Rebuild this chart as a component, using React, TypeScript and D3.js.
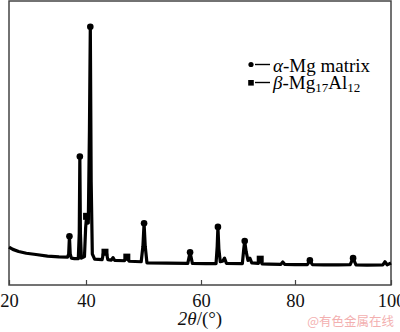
import { useEffect, useRef } from "react";
import * as d3 from "d3";

// XRD profile, 2θ (deg) and intensity (a.u.)
const twoTheta = [
  20.0, 21.0, 22.5, 24.5, 27.0, 30.0, 33.0, 35.2, 35.5, 35.7, 35.9, 36.2,
  37.0, 38.0, 38.25, 38.4, 38.55, 38.8, 39.6, 39.9, 40.1, 40.4, 40.6, 40.75,
  40.9, 41.1, 41.5, 42.8, 43.0, 43.3, 43.6, 43.8, 44.4, 44.7, 45.0, 46.7,
  47.1, 47.5, 49.6, 49.9, 50.1, 50.3, 50.6, 54.0, 57.7, 58.1, 58.5, 61.0,
  63.2, 63.45, 63.6, 63.8, 64.1, 64.6, 65.0, 65.4, 68.8, 69.1, 69.3, 69.6,
  70.0, 70.4, 70.8, 72.2, 72.6, 73.0, 74.5, 77.0, 77.4, 77.8, 80.0, 82.6,
  83.1, 83.6, 86.0, 89.0, 91.5, 92.1, 92.7, 95.0, 98.3, 98.75, 99.2, 100.0,
];
const intensity = [
  14.7, 13.8, 13.0, 12.3, 11.8, 11.2, 10.9, 10.8, 12.0, 18.9, 12.0, 10.4,
  10.2, 10.2, 20.0, 49.8, 20.0, 10.4, 11.0, 22.0, 26.6, 24.0, 60.0, 100.0,
  40.0, 12.0, 10.0, 9.8, 12.0, 12.7, 12.0, 9.8, 9.6, 10.6, 9.5, 9.4,
  10.8, 9.2, 9.0, 15.0, 23.9, 15.0, 8.6, 8.5, 8.4, 12.7, 8.4, 8.3,
  8.3, 15.0, 22.5, 14.0, 9.0, 9.2, 10.4, 8.4, 8.3, 14.0, 17.0, 13.0,
  9.5, 10.4, 8.6, 8.4, 10.0, 8.2, 8.1, 8.0, 8.9, 8.0, 7.9, 7.9,
  9.6, 7.9, 7.8, 7.8, 7.9, 10.4, 7.8, 7.7, 7.8, 9.0, 7.8, 8.5,
];

// phase markers (2θ of the peak they label)
const alphaPeaks = [35.7, 38.4, 40.75, 50.1, 58.1, 63.6, 69.3, 83.1, 92.1];
const betaPeaks = [40.1, 43.3, 47.1, 72.6];

// the printed axis is not evenly spaced, so ticks map piecewise
const xTicks = [20, 40, 60, 80, 100];
const xTickPx = [9, 86, 201, 295, 391];

export default function App() {
  const svgRef = useRef<SVGSVGElement>(null);

  useEffect(() => {
    const width = 400;
    const height = 332;
    const margin = { top: 1, right: 9, bottom: 47, left: 9 };
    const innerH = height - margin.top - margin.bottom;

    const svg = d3.select(svgRef.current);
    svg.selectAll("*").remove();

    const font = "'Liberation Serif', 'Times New Roman', serif";

    const x = d3.scaleLinear().domain(xTicks).range(xTickPx);
    const y = d3.scaleLinear().domain([0, 110]).range([margin.top + innerH, margin.top]);

    const data = twoTheta.map((t, i) => ({ t, v: intensity[i] }));
    const at = (t: number) => {
      const d = data.find((p) => Math.abs(p.t - t) < 1e-6);
      return d ? d.v : 0;
    };

    // frame
    svg.append("rect")
      .attr("x", x(20))
      .attr("y", margin.top)
      .attr("width", x(100) - x(20))
      .attr("height", innerH)
      .attr("fill", "none")
      .attr("stroke", "#444")
      .attr("stroke-width", 1.5);

    // bottom axis, ticks pointing inward
    const axis = d3.axisBottom(x)
      .tickValues(xTicks)
      .tickSizeInner(-5)
      .tickSizeOuter(0)
      .tickPadding(9)
      .tickFormat(d3.format("d"));
    const axisG = svg.append("g")
      .attr("transform", `translate(0,${margin.top + innerH})`)
      .call(axis);
    axisG.select(".domain").remove();
    axisG.selectAll(".tick line").attr("stroke", "#444").attr("stroke-width", 1.2);
    axisG.selectAll(".tick text")
      .attr("font-family", font)
      .attr("font-size", 18.5)
      .attr("fill", "#111");

    // pattern
    const line = d3.line<{ t: number; v: number }>()
      .x((d) => x(d.t))
      .y((d) => y(d.v));
    svg.append("path")
      .datum(data)
      .attr("fill", "none")
      .attr("stroke", "#000")
      .attr("stroke-width", 3.2)
      .attr("stroke-linejoin", "round")
      .attr("d", line);

    // markers
    svg.append("g")
      .selectAll("circle")
      .data(alphaPeaks)
      .join("circle")
      .attr("cx", (d) => x(d))
      .attr("cy", (d) => y(at(d)))
      .attr("r", 3.3)
      .attr("fill", "#000");
    svg.append("g")
      .selectAll("rect")
      .data(betaPeaks)
      .join("rect")
      .attr("x", (d) => x(d) - 3.5)
      .attr("y", (d) => y(at(d)) - 3.5)
      .attr("width", 7)
      .attr("height", 7)
      .attr("fill", "#000");

    // legend
    const lg = svg.append("g").attr("transform", "translate(251,0)");
    lg.append("circle").attr("cx", 0).attr("cy", 64.5).attr("r", 2.6).attr("fill", "#000");
    lg.append("line").attr("x1", 4).attr("x2", 19).attr("y1", 64.5).attr("y2", 64.5)
      .attr("stroke", "#000").attr("stroke-width", 1.4);
    const t1 = lg.append("text").attr("x", 22).attr("y", 71.5)
      .attr("font-family", font).attr("font-size", 19).attr("fill", "#000");
    t1.append("tspan").attr("font-style", "italic").text("α");
    t1.append("tspan").text("-Mg matrix");

    lg.append("rect").attr("x", -2.8).attr("y", 80).attr("width", 5.6).attr("height", 5.6).attr("fill", "#000");
    lg.append("line").attr("x1", 4).attr("x2", 19).attr("y1", 82.5).attr("y2", 82.5)
      .attr("stroke", "#000").attr("stroke-width", 1.4);
    const t2 = lg.append("text").attr("x", 22).attr("y", 88.5)
      .attr("font-family", font).attr("font-size", 19).attr("fill", "#000");
    t2.append("tspan").attr("font-style", "italic").text("β");
    t2.append("tspan").text("-Mg");
    t2.append("tspan").attr("font-size", 13).attr("dy", 3).text("17");
    t2.append("tspan").attr("dy", -3).text("Al");
    t2.append("tspan").attr("font-size", 13).attr("dy", 3).text("12");

    // axis title
    const xt = svg.append("text")
      .attr("x", 200)
      .attr("y", 325)
      .attr("text-anchor", "middle")
      .attr("font-family", font)
      .attr("font-size", 19)
      .attr("fill", "#111");
    xt.append("tspan").attr("font-style", "italic").text("2θ");
    xt.append("tspan").text("/(°)");

    // source watermark
    svg.append("text")
      .attr("x", 394)
      .attr("y", 326)
      .attr("text-anchor", "end")
      .attr("font-family", "'Noto Sans CJK SC', sans-serif")
      .attr("font-size", 12.5)
      .attr("fill", "#f3b0b0")
      .text("@有色金属在线");
  }, []);

  return (
    <svg
      ref={svgRef}
      width={400}
      height={332}
      style={{ position: "absolute", left: 0, top: 0, background: "#fff" }}
    />
  );
}
